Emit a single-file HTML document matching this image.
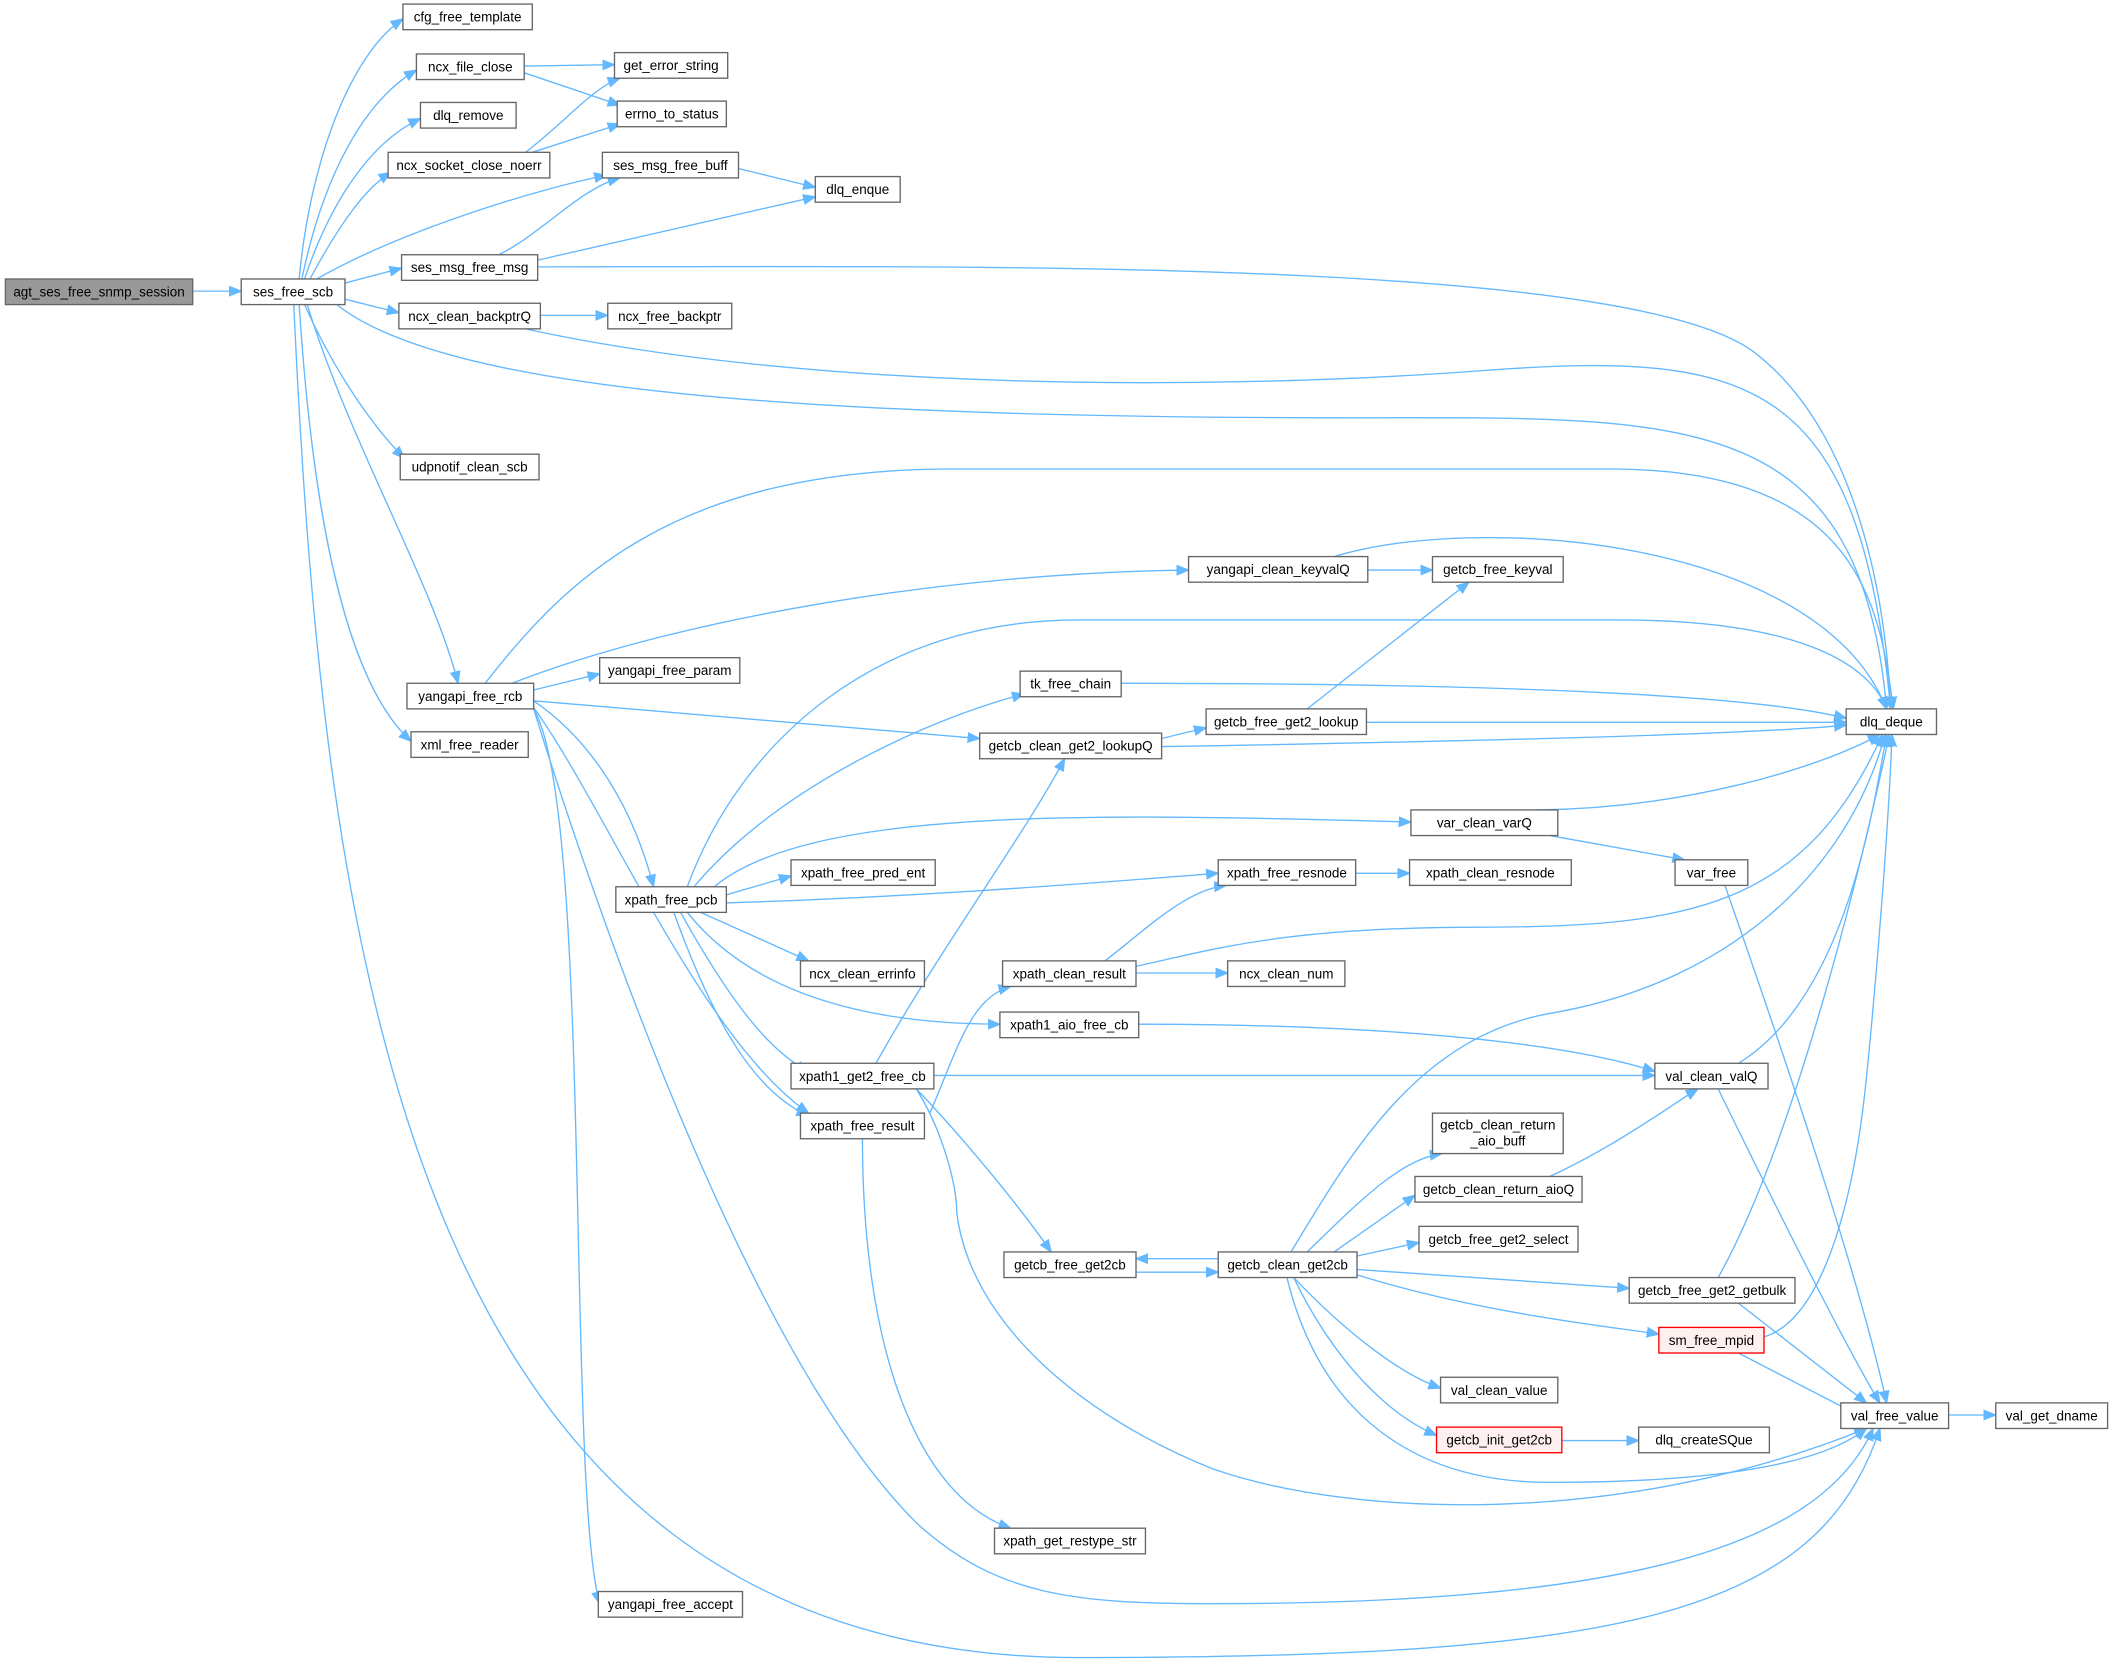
<!DOCTYPE html>
<html><head><meta charset="utf-8"><style>
html,body{margin:0;padding:0;background:#fff;}
svg{display:block;}
text{font-family:"Liberation Sans",sans-serif;font-size:10px;fill:#000;}
.n{fill:#fff;stroke:#666;stroke-width:1;}
.e{fill:none;stroke:#63b8ff;stroke-width:1;marker-end:url(#a);}
</style></head><body>
<svg width="2113" height="1663" viewBox="0 0 1568 1234" xmlns="http://www.w3.org/2000/svg">
<defs><marker id="a" viewBox="0 0 10 10" refX="10" refY="5" markerWidth="9" markerHeight="9" markerUnits="userSpaceOnUse" orient="auto"><path d="M0,1 L10,5 L0,9 z" fill="#63b8ff" stroke="#63b8ff"/></marker></defs>
<rect width="1568" height="1234" fill="#fff"/>
<g>
<path class="e" d="M143,216 L179,216"/>
<path class="e" d="M222,207 C230,120 260,40 299,14"/>
<path class="e" d="M224,207 C240,130 270,75 309,52"/>
<path class="e" d="M226,207 C245,150 275,105 312,88"/>
<path class="e" d="M230,207 C250,170 270,140 290,128"/>
<path class="e" d="M235,207 C300,170 400,140 450,130"/>
<path class="e" d="M256,210 L298,199"/>
<path class="e" d="M256,222 L296,232"/>
<path class="e" d="M250,226 C330,290 600,310 1000,310 C1250,310 1380,300 1400,526"/>
<path class="e" d="M226,226 C250,280 280,320 300,340"/>
<path class="e" d="M228,226 C260,330 320,430 340,507"/>
<path class="e" d="M222,226 C230,350 250,500 305,550"/>
<path class="e" d="M218,226 C240,700 300,1230 800,1230 C1200,1230 1350,1200 1395,1060"/>
<path class="e" d="M389,49 L456,48"/>
<path class="e" d="M389,54 L460,78"/>
<path class="e" d="M390,113 C420,90 440,65 460,58"/>
<path class="e" d="M395,113 L460,92"/>
<path class="e" d="M548,125 L605,139"/>
<path class="e" d="M370,189 C400,175 430,140 460,132"/>
<path class="e" d="M399,193 L605,146"/>
<path class="e" d="M399,198 C700,198 1200,190 1300,260 C1380,320 1400,450 1403,526"/>
<path class="e" d="M401,234 L451,234"/>
<path class="e" d="M390,244 C600,290 900,290 1100,275 C1300,260 1380,280 1403,526"/>
<path class="e" d="M360,507 C420,430 500,350 700,348 L1200,348 C1380,350 1395,450 1405,526"/>
<path class="e" d="M380,507 C500,460 700,425 882,423"/>
<path class="e" d="M396,512 L445,500"/>
<path class="e" d="M396,520 L727,548"/>
<path class="e" d="M396,520 C440,550 470,600 485,658"/>
<path class="e" d="M396,525 C450,600 520,770 600,826"/>
<path class="e" d="M396,526 C440,600 420,1100 445,1190"/>
<path class="e" d="M396,526 C450,700 560,1010 680,1130 C740,1185 800,1190 900,1190 C1200,1190 1350,1150 1390,1060"/>
<path class="e" d="M1015,423 L1063,423"/>
<path class="e" d="M990,413 C1100,380 1350,400 1400,526"/>
<path class="e" d="M970,526 L1090,432"/>
<path class="e" d="M1014,536 L1370,536"/>
<path class="e" d="M862,548 L895,540"/>
<path class="e" d="M862,554 C1100,550 1300,545 1370,538"/>
<path class="e" d="M832,507 C1100,507 1300,515 1370,533"/>
<path class="e" d="M510,658 C550,550 650,460 800,460 L1200,460 C1350,460 1390,500 1400,526"/>
<path class="e" d="M515,658 C580,580 700,530 760,515"/>
<path class="e" d="M650,789 C700,700 760,620 790,563"/>
<path class="e" d="M530,658 C600,600 800,603 1047,610"/>
<path class="e" d="M539,664 L587,650"/>
<path class="e" d="M539,670 C700,665 850,652 904,648"/>
<path class="e" d="M520,677 L600,713"/>
<path class="e" d="M510,677 C560,740 650,760 742,760"/>
<path class="e" d="M505,677 C540,740 570,780 600,795"/>
<path class="e" d="M500,677 C530,760 560,810 600,828"/>
<path class="e" d="M1140,601 C1250,600 1350,570 1395,545"/>
<path class="e" d="M1150,620 L1250,638"/>
<path class="e" d="M1006,648 L1046,648"/>
<path class="e" d="M820,713 C850,690 880,660 910,657"/>
<path class="e" d="M843,722 L911,722"/>
<path class="e" d="M843,717 C900,705 950,688 1100,688 C1260,688 1340,670 1397,545"/>
<path class="e" d="M845,760 C1000,760 1150,770 1228,795"/>
<path class="e" d="M693,798 L1228,798"/>
<path class="e" d="M680,808 C720,850 760,900 780,929"/>
<path class="e" d="M680,808 C700,840 710,880 710,900 C720,980 800,1050 900,1090 C1000,1125 1200,1135 1385,1060"/>
<path class="e" d="M690,826 C710,780 720,740 750,732"/>
<path class="e" d="M640,845 C640,1000 680,1110 750,1134"/>
<path class="e" d="M1290,789 C1370,740 1390,600 1400,545"/>
<path class="e" d="M1275,808 C1320,900 1370,1000 1395,1041"/>
<path class="e" d="M1280,657 C1330,800 1380,950 1400,1041"/>
<path class="e" d="M958,929 C1000,860 1050,770 1150,752 C1280,730 1370,650 1399,545"/>
<path class="e" d="M970,929 C1010,890 1040,860 1070,856"/>
<path class="e" d="M990,929 L1050,887"/>
<path class="e" d="M1007,932 L1053,922"/>
<path class="e" d="M904,934 L843,934"/>
<path class="e" d="M843,944 L904,944"/>
<path class="e" d="M1007,942 L1209,956"/>
<path class="e" d="M1007,946 C1100,975 1200,985 1231,990"/>
<path class="e" d="M960,948 C1000,990 1040,1020 1069,1030"/>
<path class="e" d="M960,948 C990,1010 1030,1050 1066,1065"/>
<path class="e" d="M955,948 C980,1050 1050,1100 1150,1100 C1300,1100 1360,1080 1385,1060"/>
<path class="e" d="M1150,873 C1200,850 1240,820 1260,808"/>
<path class="e" d="M1275,948 C1330,850 1380,650 1402,545"/>
<path class="e" d="M1290,967 L1385,1041"/>
<path class="e" d="M1309,992 C1350,980 1375,900 1385,800 C1395,700 1402,600 1404,545"/>
<path class="e" d="M1290,1004 L1375,1048"/>
<path class="e" d="M1159,1069 L1216,1069"/>
<path class="e" d="M1446,1050 L1481,1050"/>
</g>
<g>
<rect x="4" y="207" width="139" height="19" fill="#999" stroke="#666"/><text x="73.5" y="220" text-anchor="middle">agt_ses_free_snmp_session</text>
<rect class="n" x="179" y="207" width="77" height="19"/><text x="217.5" y="220" text-anchor="middle">ses_free_scb</text>
<rect class="n" x="299" y="3" width="96" height="19"/><text x="347" y="16" text-anchor="middle">cfg_free_template</text>
<rect class="n" x="309" y="40" width="80" height="19"/><text x="349" y="53" text-anchor="middle">ncx_file_close</text>
<rect class="n" x="312" y="76" width="71" height="19"/><text x="347.5" y="89" text-anchor="middle">dlq_remove</text>
<rect class="n" x="288" y="113" width="120" height="19"/><text x="348" y="126" text-anchor="middle">ncx_socket_close_noerr</text>
<rect class="n" x="298" y="189" width="101" height="19"/><text x="348.5" y="202" text-anchor="middle">ses_msg_free_msg</text>
<rect class="n" x="296" y="225" width="105" height="19"/><text x="348.5" y="238" text-anchor="middle">ncx_clean_backptrQ</text>
<rect class="n" x="297" y="337" width="103" height="19"/><text x="348.5" y="350" text-anchor="middle">udpnotif_clean_scb</text>
<rect class="n" x="302" y="507" width="94" height="19"/><text x="349" y="520" text-anchor="middle">yangapi_free_rcb</text>
<rect class="n" x="305" y="543" width="87" height="19"/><text x="348.5" y="556" text-anchor="middle">xml_free_reader</text>
<rect class="n" x="456" y="39" width="84" height="19"/><text x="498" y="52" text-anchor="middle">get_error_string</text>
<rect class="n" x="458" y="75" width="81" height="19"/><text x="498.5" y="88" text-anchor="middle">errno_to_status</text>
<rect class="n" x="447" y="113" width="101" height="19"/><text x="497.5" y="126" text-anchor="middle">ses_msg_free_buff</text>
<rect class="n" x="605" y="131" width="63" height="19"/><text x="636.5" y="144" text-anchor="middle">dlq_enque</text>
<rect class="n" x="451" y="225" width="92" height="19"/><text x="497" y="238" text-anchor="middle">ncx_free_backptr</text>
<rect class="n" x="445" y="488" width="104" height="19"/><text x="497" y="501" text-anchor="middle">yangapi_free_param</text>
<rect class="n" x="444" y="1181" width="107" height="19"/><text x="497.5" y="1194" text-anchor="middle">yangapi_free_accept</text>
<rect class="n" x="882" y="413" width="133" height="19"/><text x="948.5" y="426" text-anchor="middle">yangapi_clean_keyvalQ</text>
<rect class="n" x="1063" y="413" width="97" height="19"/><text x="1111.5" y="426" text-anchor="middle">getcb_free_keyval</text>
<rect class="n" x="757" y="498" width="75" height="19"/><text x="794.5" y="511" text-anchor="middle">tk_free_chain</text>
<rect class="n" x="727" y="544" width="135" height="19"/><text x="794.5" y="557" text-anchor="middle">getcb_clean_get2_lookupQ</text>
<rect class="n" x="895" y="526" width="119" height="19"/><text x="954.5" y="539" text-anchor="middle">getcb_free_get2_lookup</text>
<rect class="n" x="1370" y="526" width="67" height="19"/><text x="1403.5" y="539" text-anchor="middle">dlq_deque</text>
<rect class="n" x="1047" y="601" width="109" height="19"/><text x="1101.5" y="614" text-anchor="middle">var_clean_varQ</text>
<rect class="n" x="1243" y="638" width="54" height="19"/><text x="1270" y="651" text-anchor="middle">var_free</text>
<rect class="n" x="457" y="658" width="82" height="19"/><text x="498" y="671" text-anchor="middle">xpath_free_pcb</text>
<rect class="n" x="587" y="638" width="107" height="19"/><text x="640.5" y="651" text-anchor="middle">xpath_free_pred_ent</text>
<rect class="n" x="904" y="638" width="102" height="19"/><text x="955" y="651" text-anchor="middle">xpath_free_resnode</text>
<rect class="n" x="1046" y="638" width="120" height="19"/><text x="1106" y="651" text-anchor="middle">xpath_clean_resnode</text>
<rect class="n" x="594" y="713" width="92" height="19"/><text x="640" y="726" text-anchor="middle">ncx_clean_errinfo</text>
<rect class="n" x="744" y="713" width="99" height="19"/><text x="793.5" y="726" text-anchor="middle">xpath_clean_result</text>
<rect class="n" x="911" y="713" width="87" height="19"/><text x="954.5" y="726" text-anchor="middle">ncx_clean_num</text>
<rect class="n" x="742" y="751" width="103" height="19"/><text x="793.5" y="764" text-anchor="middle">xpath1_aio_free_cb</text>
<rect class="n" x="587" y="789" width="106" height="19"/><text x="640" y="802" text-anchor="middle">xpath1_get2_free_cb</text>
<rect class="n" x="1228" y="789" width="84" height="19"/><text x="1270" y="802" text-anchor="middle">val_clean_valQ</text>
<rect class="n" x="594" y="826" width="92" height="19"/><text x="640" y="839" text-anchor="middle">xpath_free_result</text>
<rect class="n" x="1063" y="826" width="97" height="30"/><text x="1111.5" y="838" text-anchor="middle">getcb_clean_return</text><text x="1111.5" y="850" text-anchor="middle">_aio_buff</text>
<rect class="n" x="1050" y="873" width="124" height="19"/><text x="1112" y="886" text-anchor="middle">getcb_clean_return_aioQ</text>
<rect class="n" x="1053" y="910" width="118" height="19"/><text x="1112" y="923" text-anchor="middle">getcb_free_get2_select</text>
<rect class="n" x="745" y="929" width="98" height="19"/><text x="794" y="942" text-anchor="middle">getcb_free_get2cb</text>
<rect class="n" x="904" y="929" width="103" height="19"/><text x="955.5" y="942" text-anchor="middle">getcb_clean_get2cb</text>
<rect class="n" x="1209" y="948" width="123" height="19"/><text x="1270.5" y="961" text-anchor="middle">getcb_free_get2_getbulk</text>
<rect x="1231" y="985" width="78" height="19" fill="#fff0f0" stroke="#f00"/><text x="1270" y="998" text-anchor="middle">sm_free_mpid</text>
<rect class="n" x="1069" y="1022" width="87" height="19"/><text x="1112.5" y="1035" text-anchor="middle">val_clean_value</text>
<rect x="1066" y="1059" width="93" height="19" fill="#fff0f0" stroke="#f00"/><text x="1112.5" y="1072" text-anchor="middle">getcb_init_get2cb</text>
<rect class="n" x="1216" y="1059" width="97" height="19"/><text x="1264.5" y="1072" text-anchor="middle">dlq_createSQue</text>
<rect class="n" x="1366" y="1041" width="80" height="19"/><text x="1406" y="1054" text-anchor="middle">val_free_value</text>
<rect class="n" x="1481" y="1041" width="83" height="19"/><text x="1522.5" y="1054" text-anchor="middle">val_get_dname</text>
<rect class="n" x="738" y="1134" width="112" height="19"/><text x="794" y="1147" text-anchor="middle">xpath_get_restype_str</text>
</g>
</svg>
</body></html>
